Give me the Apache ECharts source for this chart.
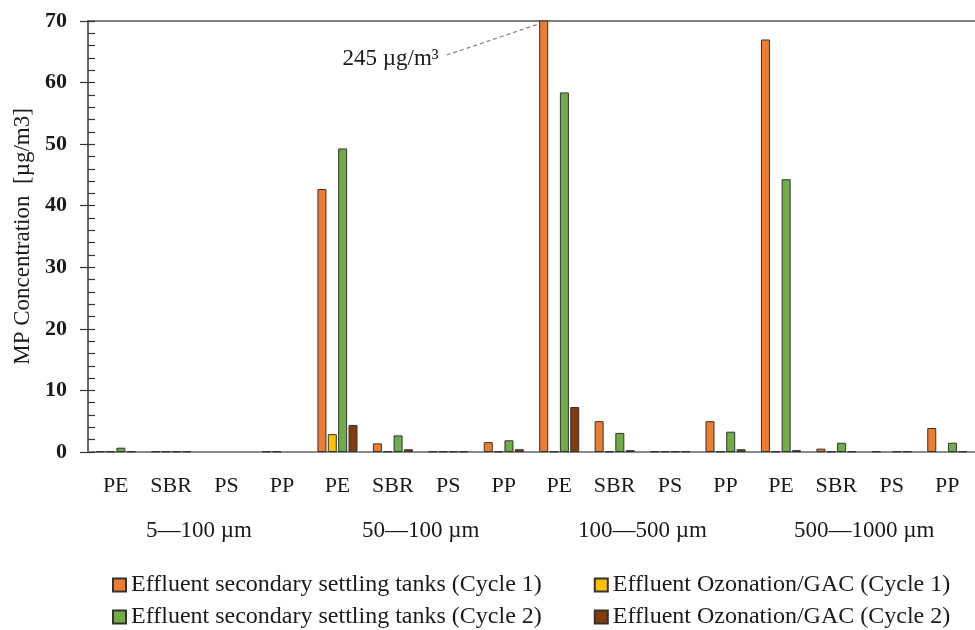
<!DOCTYPE html>
<html>
<head>
<meta charset="utf-8">
<script src="https://cdn.jsdelivr.net/npm/echarts@6/dist/echarts.min.js"></script>
<style>
  html, body { margin: 0; padding: 0; background: #ffffff; }
  #chart { width: 975px; height: 630px; }
</style>
</head>
<body>
<div id="chart"></div>
<script>
// Polymer types, repeated for each particle size class
const polymers = ['PE', 'SBR', 'PS', 'PP', 'PE', 'SBR', 'PS', 'PP',
                  'PE', 'SBR', 'PS', 'PP', 'PE', 'SBR', 'PS', 'PP'];
const sizeClasses = ['5\u2014100 \u00b5m', '50\u2014100 \u00b5m', '100\u2014500 \u00b5m', '500\u20141000 \u00b5m'];

const seriesNames = [
  'Effluent secondary settling tanks (Cycle 1)',
  'Effluent Ozonation/GAC (Cycle 1)',
  'Effluent secondary settling tanks (Cycle 2)',
  'Effluent Ozonation/GAC (Cycle 2)'
];

// MP concentration in µg/m³ (null = not detected)
const settlingCycle1 = [0.1, 0.1, null, 0.1, 42.7, 1.4, 0.1, 1.6, 245, 5.0, 0.1, 5.0, 67.0, 0.55, 0.1, 3.9];
const ozonationCycle1 = [0.1, 0.1, null, 0.1, 2.9, 0.1, 0.1, 0.1, 0.1, 0.1, 0.1, 0.1, 0.1, 0.1, null, null];
const settlingCycle2 = [0.7, 0.1, null, null, 49.3, 2.7, 0.1, 1.9, 58.4, 3.1, 0.1, 3.3, 44.3, 1.5, 0.1, 1.5];
const ozonationCycle2 = [0.1, 0.1, null, null, 4.4, 0.45, 0.1, 0.45, 7.3, 0.3, 0.1, 0.45, 0.3, 0.1, 0.1, 0.1];

const seriesColors = ['#ED7D31', '#FFC000', '#70AD47', '#843C0C'];

// Value axis range
const yMin = 0, yMax = 70, yStep = 10;

// Off-scale value called out with a note
const calloutIndex = 8;
const calloutText = '245 \u00b5g/m\u00b3';

const FONT = "'Liberation Serif', 'DejaVu Serif', serif";
const BAR_W = 9;
const BAR_GAP = 0.15;

const chart = echarts.init(document.getElementById('chart'), null, { renderer: 'canvas' });

const seriesData = [settlingCycle1, ozonationCycle1, settlingCycle2, ozonationCycle2];

const series = seriesData.map((d, i) => ({
  name: seriesNames[i],
  type: 'bar',
  xAxisIndex: 0,
  yAxisIndex: 0,
  data: d,
  barWidth: BAR_W,
  barGap: (BAR_GAP * 100) + '%',
  clip: true,
  itemStyle: { color: seriesColors[i], borderColor: '#333333', borderWidth: 1 },
  emphasis: { disabled: true },
  animation: false
}));

const option = {
  animation: false,
  backgroundColor: '#ffffff',
  grid: { left: 88, right: -9, top: 21, bottom: 178, containLabel: false },
  xAxis: [
    {
      type: 'category',
      data: polymers,
      position: 'bottom',
      axisLine: { show: true, lineStyle: { color: '#8a8a8a', width: 2 } },
      axisTick: { show: false },
      axisLabel: { interval: 0, margin: 23, fontFamily: FONT, fontSize: 22, color: '#1a1a1a' },
      splitLine: { show: false }
    },
    {
      type: 'category',
      data: sizeClasses,
      position: 'bottom',
      axisLine: { show: false },
      axisTick: { show: false },
      axisLabel: { interval: 0, margin: 67, fontFamily: FONT, fontSize: 23, color: '#1a1a1a' },
      splitLine: { show: false }
    },
    {
      type: 'category',
      data: polymers,
      position: 'top',
      axisLine: { show: true, lineStyle: { color: '#555555', width: 1.5 } },
      axisTick: { show: false },
      axisLabel: { show: false },
      splitLine: { show: false }
    }
  ],
  yAxis: [
    {
      type: 'value',
      min: yMin,
      max: yMax,
      interval: yStep,
      position: 'left',
      name: 'MP Concentration  [\u00b5g/m3]',
      nameLocation: 'middle',
      nameGap: 53,
      nameRotate: 90,
      nameTextStyle: { fontFamily: FONT, fontSize: 23, color: '#1a1a1a' },
      axisLine: { show: true, lineStyle: { color: '#333333', width: 1.5 } },
      axisTick: { show: true, inside: true, length: 7, lineStyle: { color: '#333333', width: 1.2 } },
      minorTick: { show: true, splitNumber: 5, length: 7, lineStyle: { color: '#333333', width: 1.2 } },
      axisLabel: { margin: 21, fontFamily: FONT, fontSize: 22, fontWeight: 'bold', color: '#1a1a1a' },
      splitLine: { show: false }
    },
    {
      type: 'value',
      min: yMin,
      max: yMax,
      interval: yStep,
      position: 'left',
      axisLine: { show: false },
      axisTick: { show: true, inside: false, length: 8, lineStyle: { color: '#333333', width: 1.2 } },
      axisLabel: { show: false },
      splitLine: { show: false }
    }
  ],
  legend: [
    {
      data: [seriesNames[0], seriesNames[1]],
      left: 107,
      top: 568,
      icon: 'rect',
      itemWidth: 13,
      itemHeight: 13,
      itemGap: 52,
      selectedMode: false,
      textStyle: { fontFamily: FONT, fontSize: 24, color: '#1a1a1a' }
    },
    {
      data: [seriesNames[2], seriesNames[3]],
      left: 107,
      top: 600,
      icon: 'rect',
      itemWidth: 13,
      itemHeight: 13,
      itemGap: 52,
      selectedMode: false,
      textStyle: { fontFamily: FONT, fontSize: 24, color: '#1a1a1a' }
    }
  ],
  series: series
};

chart.setOption(option);

// Callout for the bar that runs past the top of the value axis
function drawCallout() {
  const top = chart.convertToPixel({ xAxisIndex: 0, yAxisIndex: 0 }, [calloutIndex, yMax]);
  const n = seriesData.length;
  const total = n * BAR_W + (n - 1) * BAR_GAP * BAR_W;
  const barCenter = top[0] - total / 2 + BAR_W / 2;
  const end = [barCenter - 5, top[1] + 3];
  const start = [end[0] - 92, end[1] + 31];
  chart.setOption({
    graphic: [
      {
        type: 'line',
        shape: { x1: start[0], y1: start[1], x2: end[0], y2: end[1] },
        style: { stroke: '#8a8a8a', lineWidth: 1.3, lineDash: [4, 3] },
        silent: true
      },
      {
        type: 'text',
        x: start[0] - 8,
        y: start[1] + 4,
        style: {
          text: calloutText,
          fontFamily: FONT,
          fontSize: 23,
          fill: '#1a1a1a',
          align: 'right',
          verticalAlign: 'middle'
        },
        silent: true
      }
    ]
  });
}
drawCallout();
</script>
</body>
</html>
